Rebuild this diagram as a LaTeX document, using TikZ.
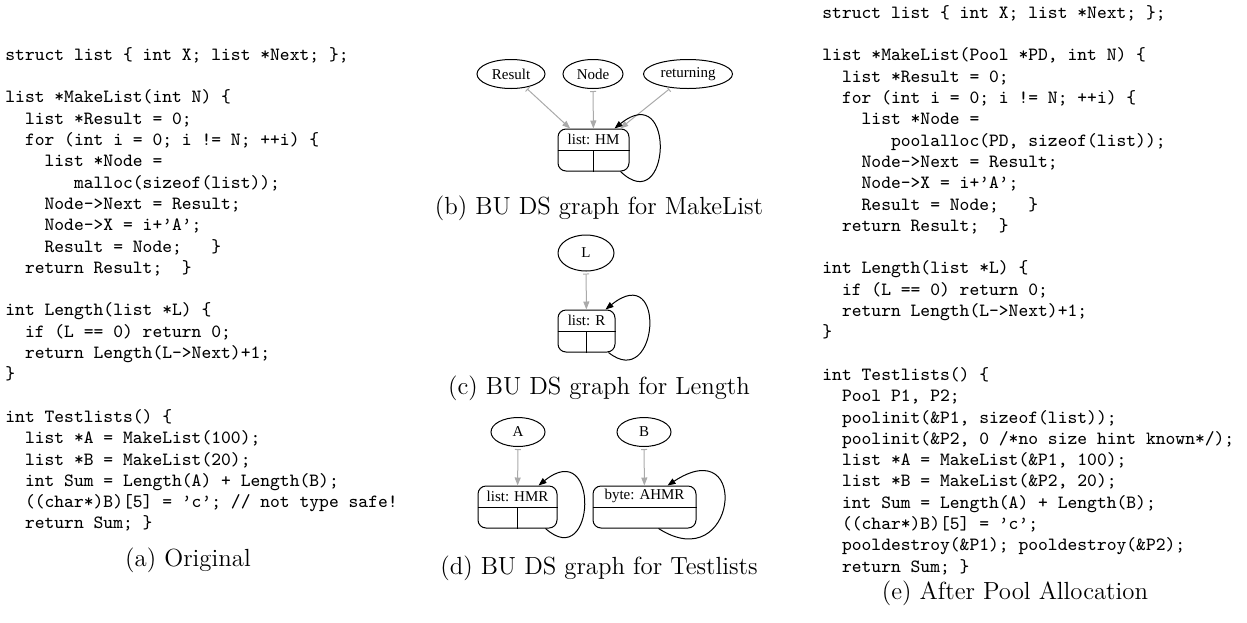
\documentclass[tikz,border=0pt]{standalone}
\usepackage{fontspec}
\usetikzlibrary{arrows.meta,shapes.geometric,positioning,calc}
\newfontfamily\graphfont{Liberation Serif}
\definecolor{edgeGray}{RGB}{170,170,170}

\newcommand{\q}{\textquoteright}
\newcommand{\ind}[1]{\hspace*{#1\dimexpr0.525em\relax}}
\newcommand{\codefont}{\fontsize{9.34}{10.65}\selectfont\ttfamily}

\begin{document}
\begin{tikzpicture}[x=0.5pt, y=-0.5pt,
  codeblock/.style={anchor=north west, inner sep=0pt, align=left, font=\codefont},
  subcap/.style={inner sep=0pt, font=\fontsize{12.4}{14}\selectfont},
  var/.style={draw, ellipse, inner sep=0pt, minimum height=14.5pt, line width=0.5pt, font=\graphfont\fontsize{7.5}{9}\selectfont},
  dsnode/.style={draw, rounded corners=4pt, minimum height=21pt, inner sep=0pt, line width=0.5pt},
  dslabel/.style={inner sep=0pt, font=\graphfont\fontsize{7.5}{9}\selectfont},
  pointsto/.style={draw=edgeGray, line width=0.5pt, shorten <=1pt, {Bar[width=3pt,line width=0.5pt]}-{Triangle[length=4pt,width=3pt]}},
  selfloop/.style={line width=0.5pt, -{Triangle[length=4pt,width=3pt]}}]
\useasboundingbox (0,0) rectangle (1247,622);

% (a) original program
\node[codeblock] (orig) at (5,47) {struct list \{ int X; list *Next; \};\\[10.65pt]
list *MakeList(int N) \{\\
\ind{2}list *Result = 0;\\
\ind{2}for (int i = 0; i != N; ++i) \{\\
\ind{4}list *Node =\\
\ind{7}malloc(sizeof(list));\\
\ind{4}Node->Next = Result;\\
\ind{4}Node->X = i+\q A\q;\\
\ind{4}Result = Node;~~~\}\\
\ind{2}return Result;~~\}\\[10.65pt]
int Length(list *L) \{\\
\ind{2}if (L == 0) return 0;\\
\ind{2}return Length(L->Next)+1;\\
\}\\[10.65pt]
int Testlists() \{\\
\ind{2}list *A = MakeList(100);\\
\ind{2}list *B = MakeList(20);\\
\ind{2}int Sum = Length(A) + Length(B);\\
\ind{2}((char*)B)[5] = \q c\q; // not type safe!\\
\ind{2}return Sum; \}};
\node[subcap] (capa) at (188,560) {(a) Original};

% (b) MakeList
\node[var, minimum width=34pt] (result) at (511,74) {Result};
\node[var, minimum width=30pt] (node) at (593,74) {Node};
\node[var, minimum width=44.5pt] (ret) at (688,74) {returning};
\node[dsnode, minimum width=35.5pt] (hm) at (593.5,150) {};
\node[dslabel] (hmlab) at ($(hm.north)!0.5!(hm.center)$) {list: HM};
\draw[line width=0.5pt] (hm.west) -- (hm.east) (hm.center) -- (hm.south);
\draw[pointsto] (result) -- (hm);
\draw[pointsto] (node) -- (hm);
\draw[pointsto] (ret) -- (hm);
\draw[selfloop] ([xshift=-4.5pt]hm.south east) .. controls +(50,48) and +(62,-50) .. ([xshift=-7.5pt]hm.north east);
\node[subcap] (capb) at (599,208) {(b) BU DS graph for MakeList};

% (c) Length
\node[var, minimum width=28pt, minimum height=18pt] (l) at (586,253) {L};
\node[dsnode, minimum width=28.5pt] (r) at (586.5,331) {};
\node[dslabel] (rlab) at ($(r.north)!0.5!(r.center)$) {list: R};
\draw[line width=0.5pt] (r.west) -- (r.east) (r.center) -- (r.south);
\draw[pointsto] (l) -- (r);
\draw[selfloop] ([xshift=-3.5pt]r.south east) .. controls +(50,40) and +(62,-50) .. ([xshift=-5pt]r.north east);
\node[subcap] (capc) at (599,388) {(c) BU DS graph for Length};

% (d) Testlists
\node[var, minimum width=27pt] (a) at (518,432) {A};
\node[var, minimum width=27pt] (b) at (644,432) {B};
\node[dsnode, minimum width=39.5pt] (hmr) at (517.5,507) {};
\node[dslabel] (hmrlab) at ($(hmr.north)!0.5!(hmr.center)$) {list: HMR};
\draw[line width=0.5pt] (hmr.west) -- (hmr.east) (hmr.center) -- (hmr.south);
\node[dsnode, minimum width=51.5pt] (byte) at (644.5,507) {};
\node[dslabel] (bytelab) at ($(byte.north)!0.5!(byte.center)$) {byte: AHMR};
\draw[line width=0.5pt] (byte.west) -- (byte.east);
\draw[pointsto] (a) -- (hmr);
\draw[pointsto] (b) -- (byte);
\draw[selfloop] ([xshift=-6pt]hmr.south east) .. controls +(50,45) and +(62,-50) .. ([xshift=-9.5pt]hmr.north east);
\draw[selfloop] ([xshift=-19pt]byte.south east) .. controls +(78,50) and +(84,-55) .. ([xshift=-14.5pt]byte.north east);
\node[subcap] (capd) at (599,568) {(d) BU DS graph for Testlists};

% (e) after pool allocation
\node[codeblock] (pool) at (822,5) {struct list \{ int X; list *Next; \};\\[10.65pt]
list *MakeList(Pool *PD, int N) \{\\
\ind{2}list *Result = 0;\\
\ind{2}for (int i = 0; i != N; ++i) \{\\
\ind{4}list *Node =\\
\ind{7}poolalloc(PD, sizeof(list));\\
\ind{4}Node->Next = Result;\\
\ind{4}Node->X = i+\q A\q;\\
\ind{4}Result = Node;~~~\}\\
\ind{2}return Result;~~\}\\[10.65pt]
int Length(list *L) \{\\
\ind{2}if (L == 0) return 0;\\
\ind{2}return Length(L->Next)+1;\\
\}\\[10.65pt]
int Testlists() \{\\
\ind{2}Pool P1, P2;\\
\ind{2}poolinit(\&P1, sizeof(list));\\
\ind{2}poolinit(\&P2, 0 /*no size hint known*/);\\
\ind{2}list *A = MakeList(\&P1, 100);\\
\ind{2}list *B = MakeList(\&P2, 20);\\
\ind{2}int Sum = Length(A) + Length(B);\\
\ind{2}((char*)B)[5] = \q c\q;\\
\ind{2}pooldestroy(\&P1); pooldestroy(\&P2);\\
\ind{2}return Sum; \}};
\node[subcap] (cape) at (1015,593) {(e) After Pool Allocation};
\end{tikzpicture}
\end{document}
